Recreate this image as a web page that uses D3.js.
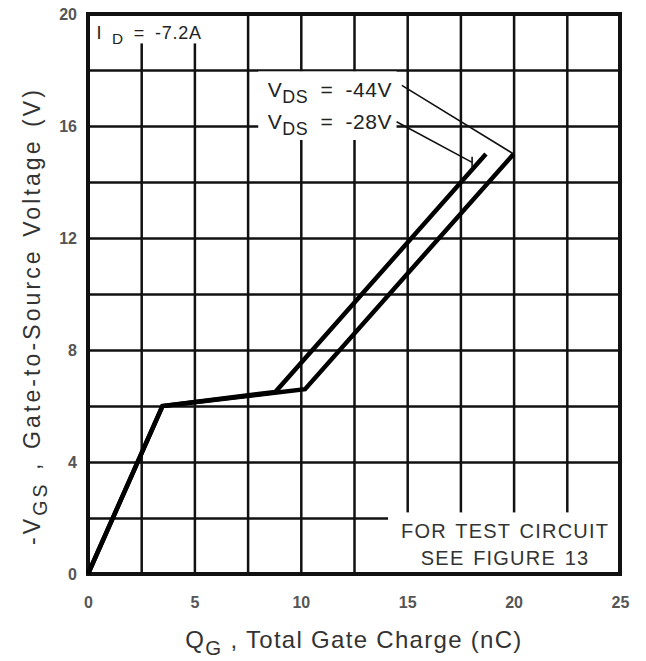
<!DOCTYPE html>
<html>
<head>
<meta charset="utf-8">
<script src="https://cdn.jsdelivr.net/npm/d3@7"></script>
<style>
  body { margin: 0; background: #fff; }
  text { font-family: "Liberation Sans", Arial, sans-serif; }
</style>
</head>
<body>
<div id="chart"></div>
<script>
// gate charge curves
const seriesNames = ['VDS = -28V', 'VDS = -44V'];
const qg28 = [0, 3.5, 8.8, 18.7];
const vgs28 = [0, 6.0, 6.5, 15.0];
const qg44 = [0, 3.5, 10.2, 20.0];
const vgs44 = [0, 6.0, 6.6, 15.0];

const xTicks = [0, 5, 10, 15, 20, 25];
const yTicks = [0, 4, 8, 12, 16, 20];
const xGrid = d3.range(0, 25.01, 2.5);
const yGrid = d3.range(0, 20.01, 2);

const W = 646, H = 661;
const margin = { left: 88, top: 14, right: 26, bottom: 87 };
const pw = W - margin.left - margin.right;
const ph = H - margin.top - margin.bottom;

const svg = d3.select('#chart').append('svg')
  .attr('width', W).attr('height', H);

const g = svg.append('g')
  .attr('transform', `translate(${margin.left},${margin.top})`);

const x = d3.scaleLinear().domain([0, 25]).range([0, pw]);
const y = d3.scaleLinear().domain([0, 20]).range([ph, 0]);

// grid
g.append('g')
  .attr('transform', `translate(0,${ph})`)
  .call(d3.axisBottom(x).tickValues(xGrid).tickSize(-ph).tickFormat(''))
  .call(s => s.select('.domain').remove())
  .selectAll('line').attr('stroke', '#111').attr('stroke-width', 2.5);

g.append('g')
  .call(d3.axisLeft(y).tickValues(yGrid).tickSize(-pw).tickFormat(''))
  .call(s => s.select('.domain').remove())
  .selectAll('line').attr('stroke', '#111').attr('stroke-width', 2.5);

// white patches behind the notes
const boxes = [
  { x0: 0, x1: 6.2, y0: 18.95, y1: 20 },     // I_D note
  { x0: 8, x1: 14.5, y0: 15.5, y1: 17.95 },   // VDS labels
  { x0: 14.1, x1: 25, y0: 0, y1: 2.2 }        // test circuit note
];
g.selectAll('rect.mask').data(boxes).enter().append('rect')
  .attr('class', 'mask')
  .attr('x', d => x(d.x0)).attr('y', d => y(d.y1))
  .attr('width', d => x(d.x1) - x(d.x0))
  .attr('height', d => y(d.y0) - y(d.y1))
  .attr('fill', '#fff');

// frame
g.append('rect')
  .attr('width', pw).attr('height', ph)
  .attr('fill', 'none').attr('stroke', '#111').attr('stroke-width', 4);

// curves
const line = d3.line().x(d => x(d[0])).y(d => y(d[1]));
const curves = [d3.zip(qg28, vgs28), d3.zip(qg44, vgs44)];
g.selectAll('path.curve').data(curves).enter().append('path')
  .attr('class', 'curve')
  .attr('d', line)
  .attr('fill', 'none')
  .attr('stroke', '#000')
  .attr('stroke-width', 4.5)
  .attr('stroke-linejoin', 'miter');

// leader lines from labels to curve ends
const leaders = [
  [[14.75, 17.45], [20.0, 15.0]],
  [[14.5, 16.15], [18.05, 14.7]]
];
g.selectAll('path.leader').data(leaders).enter().append('path')
  .attr('class', 'leader')
  .attr('d', line)
  .attr('fill', 'none')
  .attr('stroke', '#111')
  .attr('stroke-width', 1.6);

// small tick at the end of the -28V leader
g.append('path')
  .attr('d', line([[18.05, 14.5], [18.05, 14.9]]))
  .attr('stroke', '#111').attr('stroke-width', 1.6);

// tick labels
g.append('g')
  .attr('transform', `translate(0,${ph})`)
  .call(d3.axisBottom(x).tickValues(xTicks).tickSize(0).tickPadding(23))
  .call(s => s.select('.domain').remove())
  .selectAll('text')
  .attr('fill', '#555').attr('font-size', 16).attr('font-weight', 'bold')
  .style('font-family', '"Liberation Sans", Arial, sans-serif');

g.append('g')
  .call(d3.axisLeft(y).tickValues(yTicks).tickSize(0).tickPadding(11))
  .call(s => s.select('.domain').remove())
  .selectAll('text')
  .attr('fill', '#555').attr('font-size', 16).attr('font-weight', 'bold')
  .style('font-family', '"Liberation Sans", Arial, sans-serif');

// label helper: main text with a subscript part
function subLabel(sel, main, sub, rest, size) {
  sel.append('tspan').text(main);
  sel.append('tspan').attr('dy', size * 0.3).attr('font-size', size * 0.85).text(sub);
  sel.append('tspan').attr('dy', -size * 0.3).text(rest);
}

// I_D note
g.append('text')
  .attr('x', x(0.4)).attr('y', 25)
  .attr('font-size', 18).attr('fill', '#222')
  .attr('letter-spacing', 0.8).attr('word-spacing', 4)
  .call(s => subLabel(s, 'I ', 'D', ' = -7.2A', 18));

// VDS labels
const vdsY = [17.05, 15.9];
const vdsText = [' = -44V', ' = -28V'];
vdsY.forEach((v, i) => {
  g.append('text')
    .attr('x', x(8.45)).attr('y', y(v))
    .attr('font-size', 21).attr('fill', '#222')
    .attr('letter-spacing', 0.5).attr('word-spacing', 6)
    .call(s => subLabel(s, 'V', 'DS', vdsText[i], 21));
});

// test circuit note
[['FOR TEST CIRCUIT', 1.29], ['SEE FIGURE 13', 0.32]].forEach(([t, v]) => {
  g.append('text')
    .attr('x', x(19.6)).attr('y', y(v))
    .attr('text-anchor', 'middle').attr('font-size', 20).attr('fill', '#333')
    .attr('letter-spacing', 1.2).attr('word-spacing', 2)
    .text(t);
});

// axis titles
svg.append('text')
  .attr('x', margin.left + x(12.5)).attr('y', 648)
  .attr('text-anchor', 'middle').attr('font-size', 24).attr('fill', '#333')
  .attr('letter-spacing', 1.3)
  .call(s => subLabel(s, 'Q', 'G', ' , Total Gate Charge (nC)', 24));

svg.append('text')
  .attr('transform', 'translate(40,316) rotate(-90)')
  .attr('text-anchor', 'middle').attr('font-size', 23).attr('fill', '#333')
  .attr('letter-spacing', 3.1).attr('word-spacing', 2)
  .call(s => subLabel(s, '-V', 'GS', ' , Gate-to-Source Voltage (V)', 23));
</script>
</body>
</html>
